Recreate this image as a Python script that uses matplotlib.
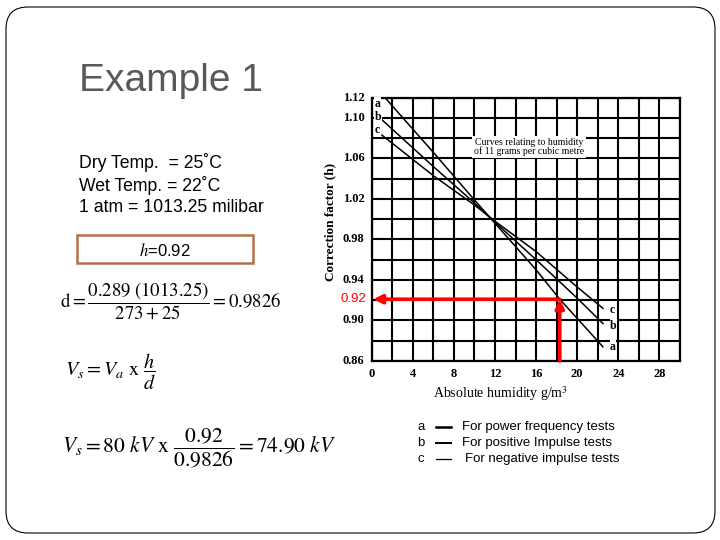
import matplotlib
matplotlib.use("Agg")
import matplotlib.pyplot as plt
from matplotlib.patches import FancyBboxPatch, Rectangle
from matplotlib.lines import Line2D

# ---------------- data ----------------
a_x = [1.3, 6, 10, 12, 16, 18.3, 20, 22.5]
a_y = [1.120, 1.066, 1.019, 0.996, 0.950, 0.921, 0.902, 0.874]
b_x = [0.8, 6, 10, 12, 16, 20, 22.5]
b_y = [1.100, 1.052, 1.016, 0.997, 0.960, 0.922, 0.897]
c_x = [1.0, 6, 10, 12, 16, 20, 22.5]
c_y = [1.083, 1.043, 1.014, 0.998, 0.968, 0.933, 0.912]

x_ticks = [0, 4, 8, 12, 16, 20, 24, 28]
y_ticks = [0.86, 0.90, 0.94, 0.98, 1.02, 1.06, 1.10, 1.12]
y_tick_labels = ["0.86", "0.90", "0.94", "0.98", "1.02", "1.06", "1.10", "1.12"]

humidity = 18.3
h_value = 0.921
h_label = "0.92"

legend_keys = ["a", "b", "c"]
legend_texts = ["For power frequency tests", "For positive Impulse tests",
                "For negative impulse tests"]

plt.rcParams["mathtext.fontset"] = "stix"

fig = plt.figure(figsize=(7.2, 5.4), dpi=100)
fig.patch.set_facecolor("white")

# slide overlay in pixel coordinates
ov = fig.add_axes([0, 0, 1, 1])
ov.set_xlim(0, 720)
ov.set_ylim(540, 0)
ov.axis("off")

ov.add_patch(FancyBboxPatch((6, 7), 709, 526, boxstyle="round,pad=0,rounding_size=22",
                            fill=False, ec="black", lw=0.8))

ov.text(79, 81, "Example 1", fontsize=28, color="#595959", family="Liberation Sans",
        va="center", ha="left")

for i, s in enumerate(["Dry Temp.  = 25˚C", "Wet Temp. = 22˚C", "1 atm = 1013.25 milibar"]):
    ov.text(79, 163 + i * 22.5, s, fontsize=12.7, family="Liberation Sans",
            va="center", ha="left", color="black")

ov.add_patch(Rectangle((77, 235), 176, 28, fill=False, ec="#b5714e", lw=1.8))
ov.text(165, 250, r"$\it{h}$=0.92", fontsize=12, family="Liberation Sans",
        va="center", ha="center")

ov.text(60, 301, r"$\mathrm{d} = \dfrac{0.289\ (1013.25)}{273 + 25} = 0.9826$",
        fontsize=13.5, va="center", ha="left")
ov.text(65, 372, r"$V_s = V_a\ \mathrm{x}\ \dfrac{h}{d}$",
        fontsize=14.5, va="center", ha="left")
ov.text(62, 448, r"$V_s = 80\ kV\ \mathrm{x}\ \dfrac{0.92}{0.9826} = 74.90\ kV$",
        fontsize=15.5, va="center", ha="left")

# legend below chart
for i, (k, t) in enumerate(zip(legend_keys, legend_texts)):
    yy = 427 + i * 16
    ov.text(417, yy, k, fontsize=9.5, family="Liberation Sans", va="center", ha="left")
    ov.add_line(Line2D([436, 451], [yy, yy], color="black", lw=[1.8, 1.4, 0.9][i]))
    ov.text(462 + (3 if i == 2 else 0), yy, t, fontsize=9.5, family="Liberation Sans",
            va="center", ha="left")

# ---------------- chart ----------------
ax = fig.add_axes([371.7 / 720, 1 - 361 / 540, (680 - 371.7) / 720, (361 - 97.7) / 540])
ax.set_xlim(0, 30)
ax.set_ylim(0.86, 1.12)
ax.set_xticks([v for v in range(0, 31, 2)], minor=False)
ax.set_yticks([0.86 + 0.02 * i for i in range(14)])
ax.grid(True, color="black", lw=1.5)
ax.tick_params(length=0, labelbottom=False, labelleft=False)
for s in ax.spines.values():
    s.set_linewidth(1.6)

for xv in x_ticks:
    ax.text(xv, 0.853, str(xv), ha="center", va="top", fontsize=9,
            family="Liberation Serif", weight="bold", transform=ax.transData, clip_on=False)
for yv, lab in zip(y_ticks, y_tick_labels):
    ax.text(-0.7, yv, lab, ha="right", va="center", fontsize=9,
            family="Liberation Serif", weight="bold", clip_on=False)
ax.text(-0.5, h_value, h_label, ha="right", va="center", fontsize=9.5,
        family="Liberation Sans", color="red", clip_on=False)

ax.set_ylabel("Correction factor (h)", family="Liberation Serif", weight="bold",
              fontsize=9.5)
ax.yaxis.set_label_coords(-0.115, 0.53)
ax.text(6.0, 0.8275, r"Absolute humidity g/m$^3$", family="Liberation Serif",
        fontsize=10, ha="left", va="center", clip_on=False)

for xs, ys, lab in [(a_x, a_y, "a"), (b_x, b_y, "b"), (c_x, c_y, "c")]:
    ax.plot(xs, ys, color="black", lw=1.1, zorder=3)

start_labels = [(0.3, 1.114, "a"), (0.3, 1.101, "b"), (0.3, 1.088, "c")]
end_labels = [(23.2, 0.874, "a"), (23.2, 0.895, "b"), (23.2, 0.910, "c")]
for xx, yy, t in start_labels + end_labels:
    ax.text(xx, yy, t, fontsize=8.5, family="Liberation Serif", weight="bold",
            ha="left", va="center", zorder=4,
            bbox=dict(fc="white", ec="none", pad=0.3))

ax.text(15.3, 1.0715, "Curves relating to humidity\nof 11 grams per cubic metre",
        fontsize=7, family="Liberation Serif", ha="center", va="center",
        linespacing=0.85, zorder=4,
        bbox=dict(fc="white", ec="none", pad=1.5))

ax.annotate("", xy=(0.15, h_value), xytext=(humidity, h_value),
            arrowprops=dict(arrowstyle="-|>", color="red", lw=2.6, mutation_scale=13,
                            shrinkA=0, shrinkB=0), zorder=5)
ax.annotate("", xy=(humidity, h_value), xytext=(humidity, 0.86),
            arrowprops=dict(arrowstyle="-|>", color="red", lw=2.6, mutation_scale=13,
                            shrinkA=0, shrinkB=0), zorder=5)

fig.savefig("out.png", dpi=100)
